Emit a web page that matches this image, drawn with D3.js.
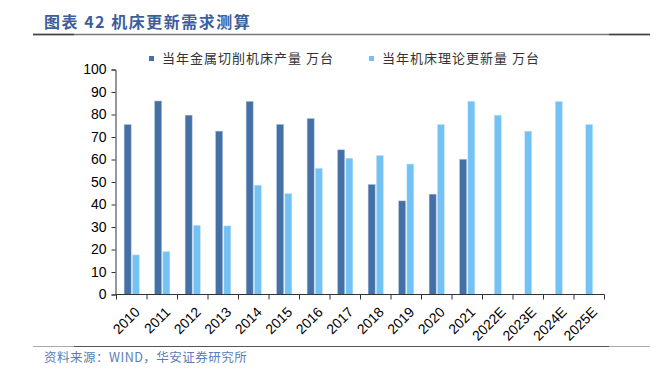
<!DOCTYPE html>
<html>
<head>
<meta charset="utf-8">
<script src="https://cdn.jsdelivr.net/npm/d3@7"></script>
<style>
  body { margin: 0; background: #fff; }
  svg { display: block; }
</style>
</head>
<body>
<svg id="chart" width="670" height="369"></svg>
<script>
// data
var years = ['2010', '2011', '2012', '2013', '2014', '2015', '2016', '2017',
  '2018', '2019', '2020', '2021', '2022E', '2023E', '2024E', '2025E'];
var output = [75.5, 86, 79.7, 72.6, 85.8, 75.6, 78.2, 64.3,
  48.9, 41.6, 44.6, 60.1, null, null, null, null];
var renewal = [17.6, 19.1, 30.8, 30.5, 48.6, 44.9, 56.1, 60.6,
  61.8, 58, 75.6, 85.9, 79.7, 72.6, 85.8, 75.6];
var yTicks = [0, 10, 20, 30, 40, 50, 60, 70, 80, 90, 100];
var seriesNames = ['当年金属切削机床产量 万台', '当年机床理论更新量 万台'];
var colors = ['#4570a6', '#74c2f3'];

// layout
var m = { left: 116.5, right: 604.5, top: 69.5, bottom: 294.5 };

var svg = d3.select('#chart');

//title + rules
svg.append('text')
  .attr('x', 44).attr('y', 28)
  .attr('fill', '#3d5e9c')
  .style('font-family', '"Noto Sans CJK SC", sans-serif')
  .style('font-weight', 'bold')
  .style('font-size', '16px')
  .style('letter-spacing', '1.5px')
  .text('图表 42 机床更新需求测算');

svg.append('line').attr('x1', 33).attr('x2', 650).attr('y1', 34.5).attr('y2', 34.5)
  .attr('stroke', '#777').attr('stroke-width', 1.5);
svg.append('line').attr('x1', 33).attr('x2', 74).attr('y1', 34.5).attr('y2', 34.5)
  .attr('stroke', '#444').attr('stroke-width', 1.5);
svg.append('line').attr('x1', 609).attr('x2', 650).attr('y1', 34.5).attr('y2', 34.5)
  .attr('stroke', '#444').attr('stroke-width', 1.5);

svg.append('line').attr('x1', 33).attr('x2', 650).attr('y1', 346.5).attr('y2', 346.5)
  .attr('stroke', '#555').attr('stroke-width', 1);
svg.append('line').attr('x1', 33).attr('x2', 74).attr('y1', 346.5).attr('y2', 346.5)
  .attr('stroke', '#aaa').attr('stroke-width', 1);
svg.append('line').attr('x1', 609).attr('x2', 650).attr('y1', 346.5).attr('y2', 346.5)
  .attr('stroke', '#aaa').attr('stroke-width', 1);

svg.append('text')
  .attr('x', 44).attr('y', 362)
  .attr('fill', '#5b7db5')
  .style('font-family', '"Noto Sans CJK SC", serif')
  .style('font-size', '12.5px')
  .style('letter-spacing', '0.5px')
  .text('资料来源：WIND，华安证券研究所');

// scales
var x = d3.scaleBand().domain(years).range([m.left, m.right]);
var y = d3.scaleLinear().domain([0, 100]).range([m.bottom, m.top]);
var barW = 7, gap = 1.2;

// bars
var g = svg.append('g');
g.selectAll('.bar-out')
  .data(years.map(function(d, i) { return { year: d, v: output[i] }; }).filter(function(d) { return d.v != null; }))
  .enter().append('rect')
  .attr('class', 'bar-out')
  .attr('x', function(d) { return x(d.year) + x.bandwidth() / 2 - barW - gap / 2; })
  .attr('y', function(d) { return y(d.v); })
  .attr('width', barW)
  .attr('height', function(d) { return y(0) - y(d.v); })
  .attr('fill', colors[0])
  .attr('stroke', '#a9bfdc').attr('stroke-width', 0.5);

g.selectAll('.bar-ren')
  .data(years.map(function(d, i) { return { year: d, v: renewal[i] }; }))
  .enter().append('rect')
  .attr('class', 'bar-ren')
  .attr('x', function(d) {
    // forecast years only have the renewal bar
    if (d.year.indexOf('E') > 0) return x(d.year) + x.bandwidth() / 2 - barW / 2;
    return x(d.year) + x.bandwidth() / 2 + gap / 2;
  })
  .attr('y', function(d) { return y(d.v); })
  .attr('width', barW)
  .attr('height', function(d) { return y(0) - y(d.v); })
  .attr('fill', colors[1])
  .attr('stroke', '#c8e6fb').attr('stroke-width', 0.5);

// y axis
var yAxis = svg.append('g')
  .attr('transform', 'translate(' + (m.left - 1) + ',0)')
  .call(d3.axisLeft(y).tickValues(yTicks).tickSize(4).tickPadding(5));
yAxis.select('.domain').attr('stroke', '#333');
yAxis.selectAll('.tick line').attr('stroke', '#333');
yAxis.selectAll('text')
  .attr('fill', '#000')
  .style('font-family', '"Liberation Sans", Arial, sans-serif')
  .style('font-size', '14px');

// x axis
var xAxis = svg.append('g').attr('transform', 'translate(0,' + m.bottom + ')');
xAxis.append('line')
  .attr('x1', m.left - 1).attr('x2', m.right)
  .attr('stroke', '#333');
xAxis.selectAll('.xt')
  .data(years.concat(['end']))
  .enter().append('line')
  .attr('x1', function(d) { return d === 'end' ? m.right : x(d); })
  .attr('x2', function(d) { return d === 'end' ? m.right : x(d); })
  .attr('y1', 0).attr('y2', 5)
  .attr('stroke', '#333');
xAxis.selectAll('.xl')
  .data(years)
  .enter().append('text')
  .attr('transform', function(d) {
    return 'translate(' + (x(d) + x.bandwidth() / 2 + 1.5) + ',11) rotate(-45)';
  })
  .attr('text-anchor', 'end')
  .attr('dy', '0.75em')
  .attr('fill', '#000')
  .style('font-family', '"Liberation Sans", Arial, sans-serif')
  .style('font-size', '14px')
  .text(function(d) { return d; });

// legend
var legX = [149, 369];
var leg = svg.selectAll('.leg')
  .data(seriesNames)
  .enter().append('g')
  .attr('transform', function(d, i) { return 'translate(' + legX[i] + ',56)'; });
leg.append('rect')
  .attr('width', 5).attr('height', 5)
  .attr('fill', function(d, i) { return colors[i]; });
leg.append('text')
  .attr('x', 13).attr('y', 7)
  .attr('fill', '#333')
  .style('font-family', '"Noto Sans CJK SC", sans-serif')
  .style('font-size', '13px')
  .style('letter-spacing', '1px')
  .text(function(d) { return d; });
</script>
</body>
</html>
